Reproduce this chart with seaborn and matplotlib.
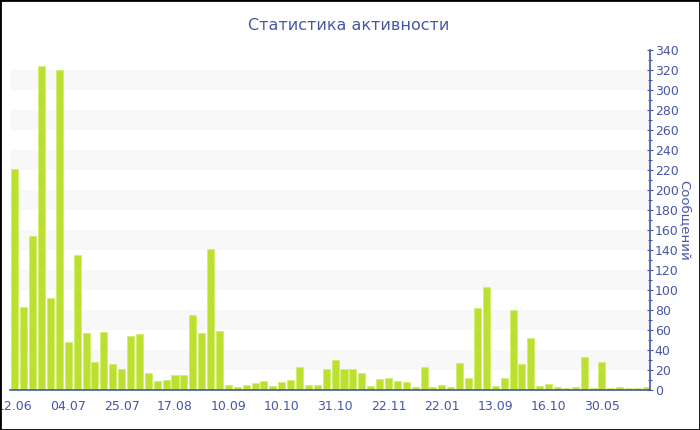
import numpy as np
import pandas as pd
import matplotlib.pyplot as plt
import matplotlib.patches as mpatches
import seaborn as sns

# ---- dati ----
valori = [221, 83, 154, 324, 92, 320, 48, 135, 57, 28, 58, 26,
          21, 54, 56, 17, 9, 10, 15, 15, 75, 57, 141, 59,
          5, 3, 5, 7, 9, 4, 8, 10, 23, 5, 5, 21,
          30, 21, 21, 17, 4, 11, 12, 9, 8, 3, 23, 3,
          5, 3, 27, 12, 82, 103, 4, 12, 80, 26, 52, 4,
          6, 3, 2, 3, 33, 2, 28, 2, 3, 2, 2, 3]
etichette = ["12.06", "04.07", "25.07", "17.08", "10.09", "10.10",
             "31.10", "22.11", "22.01", "13.09", "16.10", "30.05"]
passo_etichette = 6

titolo = "Статистика активности"
label_y = "Сообщений"

df = pd.DataFrame({"idx": range(len(valori)), "valore": valori})

blu = "#4656a6"
verde = "#bbe032"

sns.set_theme(style="white")
plt.rcParams["font.family"] = ["DejaVu Sans"]

fig = plt.figure(figsize=(7, 4.3), dpi=100)
ax = fig.add_axes([10 / 700, 40 / 430, 640 / 700, 340 / 430])

# bande alternate di sfondo
for y0 in range(20, 340, 40):
    ax.axhspan(y0, y0 + 20, color="#f8f8f8", zorder=0, linewidth=0)

sns.barplot(data=df, x="idx", y="valore", color=verde, width=0.79,
            saturation=1, edgecolor="#d2ee6e", linewidth=0.6, ax=ax, zorder=2)

ax.set_xlim(-0.55, len(valori) - 0.6)
ax.set_ylim(0, 340)

pos = [i * passo_etichette for i in range(len(etichette))]
ax.set_xticks(pos)
ax.set_xticklabels(etichette)
ax.set_xlabel("")

ax.yaxis.tick_right()
ax.yaxis.set_label_position("right")
ax.set_yticks(range(0, 341, 20))
ax.set_yticks(range(0, 341, 10), minor=True)
ax.set_ylabel(label_y, rotation=270, labelpad=9, color=blu, fontsize=9.5)

ax.tick_params(axis="both", colors=blu, labelcolor=blu, labelsize=9)
ax.tick_params(axis="y", which="major", length=5, width=0.8, pad=1, direction="inout")
ax.tick_params(axis="y", which="minor", length=3, width=0.8, colors=blu, direction="inout")
ax.tick_params(axis="x", length=4, width=0.8, pad=3, colors="#999999",
               labelcolor=blu)

for s in ["left", "top"]:
    ax.spines[s].set_visible(False)
for s in ["bottom", "right"]:
    ax.spines[s].set_color(blu)
    ax.spines[s].set_linewidth(1.2)

fig.text(349 / 700, 1 - 25 / 430, titolo, ha="center", va="center",
         color=blu, fontsize=11.5)

# cornice nera
fig.patches.append(mpatches.Rectangle((0, 0), 1, 1, transform=fig.transFigure,
                                      fill=False, edgecolor="black", linewidth=2))

plt.savefig("out.png", dpi=100)
